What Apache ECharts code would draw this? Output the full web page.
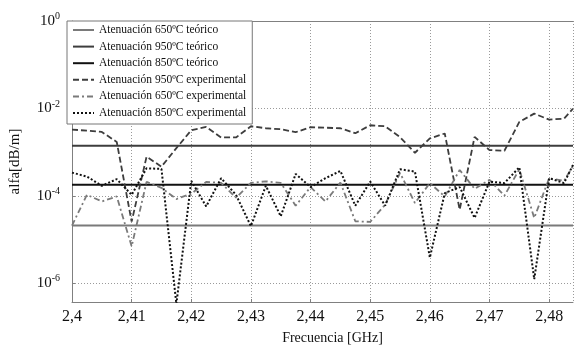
<!DOCTYPE html>
<html>
<head>
<meta charset="utf-8">
<script src="https://cdn.jsdelivr.net/npm/echarts@6/dist/echarts.min.js"></script>
<style>html,body{margin:0;padding:0;background:#fff}#c{width:575px;height:350px}</style>
</head>
<body>
<div id="c"></div>
<script>
// Frequencies (GHz)
const freq = [2.4, 2.4025, 2.405, 2.4075, 2.41, 2.4125, 2.415, 2.4175, 2.42, 2.4225,
  2.425, 2.4275, 2.43, 2.4325, 2.435, 2.4375, 2.44, 2.4425, 2.445, 2.4475,
  2.45, 2.4525, 2.455, 2.4575, 2.46, 2.4625, 2.465, 2.4675, 2.47, 2.4725,
  2.475, 2.4775, 2.48, 2.4825, 2.484];
const theoFreq = [2.4, 2.484];
// Theoretical attenuation (dB/m)
const teo650 = [2.08e-5, 2.08e-5];
const teo950 = [1.39e-3, 1.39e-3];
const teo850 = [1.78e-4, 1.78e-4];
// Experimental attenuation (dB/m)
const exp950 = [3.28e-3, 3.08e-3, 2.89e-3, 1.71e-3, 2.56e-5, 7.82e-4, 4.63e-4, 1.23e-3, 3.16e-3, 3.76e-3,
  2.16e-3, 2.16e-3, 3.90e-3, 3.51e-3, 3.33e-3, 2.85e-3, 3.70e-3, 3.61e-3, 3.51e-3, 2.70e-3,
  4.11e-3, 3.90e-3, 2.19e-3, 9.64e-4, 2.05e-3, 2.66e-3, 4.81e-5, 2.23e-3, 1.11e-3, 1.07e-3,
  4.89e-3, 7.58e-3, 5.54e-3, 5.83e-3, 9.85e-3];
const exp650 = [2.08e-5, 1.05e-4, 7.41e-5, 9.64e-5, 6.93e-6, 2.08e-4, 1.52e-4, 8.41e-5, 1.11e-4, 2.08e-4,
  1.97e-4, 9.01e-5, 1.97e-4, 2.14e-4, 1.97e-4, 5.93e-5, 1.58e-4, 7.41e-5, 2.01e-4, 2.61e-5,
  2.52e-5, 6.24e-5, 3.33e-4, 6.82e-5, 1.95e-4, 9.64e-5, 3.90e-4, 1.44e-4, 2.31e-4, 1.00e-4,
  4.04e-4, 3.11e-5, 2.52e-4, 2.19e-4, 4.81e-4];
const exp850 = [3.39e-4, 2.75e-4, 1.69e-4, 2.40e-4, 1.05e-4, 4.26e-4, 4.11e-4, 3.33e-7, 2.19e-4, 5.71e-5,
  2.52e-4, 1.05e-4, 2.01e-5, 1.69e-4, 3.39e-5, 3.16e-4, 1.58e-4, 2.52e-4, 3.70e-4, 5.93e-5,
  2.11e-4, 5.93e-5, 4.04e-4, 3.57e-4, 3.84e-6, 1.15e-4, 1.58e-4, 3.11e-5, 2.11e-4, 1.95e-4,
  4.49e-4, 1.23e-6, 2.52e-4, 1.95e-4, 5.07e-4];
const names = ['Atenuación 650ºC teórico', 'Atenuación 950ºC teórico', 'Atenuación 850ºC teórico',
  'Atenuación 950ºC experimental', 'Atenuación 650ºC experimental', 'Atenuación 850ºC experimental'];
const xMin = 2.4, xMax = 2.484, xStep = 0.01;
const yMin = 3.7e-7, yMax = 1;

const serif = 'Liberation Serif';
const pair = (xs, ys) => xs.map((x, i) => [x, ys[i]]);
function mk(name, xs, ys, color, width, type, z) {
  return {
    name, type: 'line', data: pair(xs, ys), symbol: 'none', symbolSize: 0, showSymbol: false,
    lineStyle: { color, width, type }, itemStyle: { color }, z, animation: false
  };
}
const chart = echarts.init(document.getElementById('c'), null, { renderer: 'canvas' });
chart.setOption({
  animation: false,
  backgroundColor: '#fff',
  textStyle: { fontFamily: serif },
  grid: { left: 67, top: 21, right: 2, bottom: 47, containLabel: false },
  legend: {
    orient: 'vertical', left: 67, top: 21,
    backgroundColor: '#fff', borderColor: '#777', borderWidth: 1, borderRadius: 0,
    padding: [3, 6, 5, 5], itemGap: 4.6, itemWidth: 21, itemHeight: 10,
    itemStyle: { opacity: 0 },
    textStyle: { fontFamily: serif, fontSize: 11.5, color: '#111', lineHeight: 12 },
    data: names, z: 10
  },
  xAxis: [{
    type: 'value', min: xMin, max: xMax, interval: xStep,
    name: 'Frecuencia [GHz]', nameLocation: 'middle', nameGap: 29,
    nameTextStyle: { fontFamily: serif, fontSize: 14, color: '#111', padding: [0, 0, 0, 20] },
    axisLine: { show: true, lineStyle: { color: '#808080', width: 1 } },
    axisTick: { show: true, inside: true, length: 3, lineStyle: { color: '#808080' } },
    axisLabel: {
      margin: 7, fontFamily: serif, fontSize: 16, color: '#111', showMaxLabel: false,
      formatter: v => String(+v.toFixed(3)).replace('.', ',')
    },
    splitLine: { show: true, lineStyle: { color: '#9a9a9a', type: [1, 2], width: 1 } }
  }, {
    type: 'value', min: xMin, max: xMax, position: 'top',
    axisLine: { show: true, lineStyle: { color: '#808080', width: 1 } },
    axisTick: { show: false }, axisLabel: { show: false }, splitLine: { show: false }
  }],
  yAxis: {
    type: 'log', logBase: 100, min: yMin, max: yMax,
    name: 'alfa[dB/m]', nameLocation: 'middle', nameGap: 49, nameRotate: 90,
    nameTextStyle: { fontFamily: serif, fontSize: 15, color: '#111' },
    axisLine: { show: true, lineStyle: { color: '#808080', width: 1 } },
    axisTick: { show: true, inside: true, length: 3, lineStyle: { color: '#808080' } },
    axisLabel: {
      margin: 12, showMinLabel: false,
      formatter: v => {
        const l = Math.log10(v), e = Math.round(l);
        if (Math.abs(l - e) > 0.01) return '';
        return '{b|10}{s|' + e + '}';
      },
      rich: {
        b: { fontFamily: serif, fontSize: 15, color: '#111' },
        s: { fontFamily: serif, fontSize: 10, color: '#111', padding: [0, 0, 9, 0] }
      }
    },
    splitLine: { show: true, lineStyle: { color: '#9a9a9a', type: [1, 2], width: 1 } }
  },
  series: [
    mk(names[0], theoFreq, teo650, '#7a7a7a', 2, 'solid', 3),
    mk(names[1], theoFreq, teo950, '#3d3d3d', 2, 'solid', 3),
    mk(names[2], theoFreq, teo850, '#111111', 2, 'solid', 3),
    mk(names[3], freq, exp950, '#3d3d3d', 1.8, [6, 3], 4),
    mk(names[4], freq, exp650, '#7a7a7a', 1.8, [6, 3, 2, 3], 4),
    mk(names[5], freq, exp850, '#111111', 2, [2, 2], 4)
  ]
});
</script>
</body>
</html>
